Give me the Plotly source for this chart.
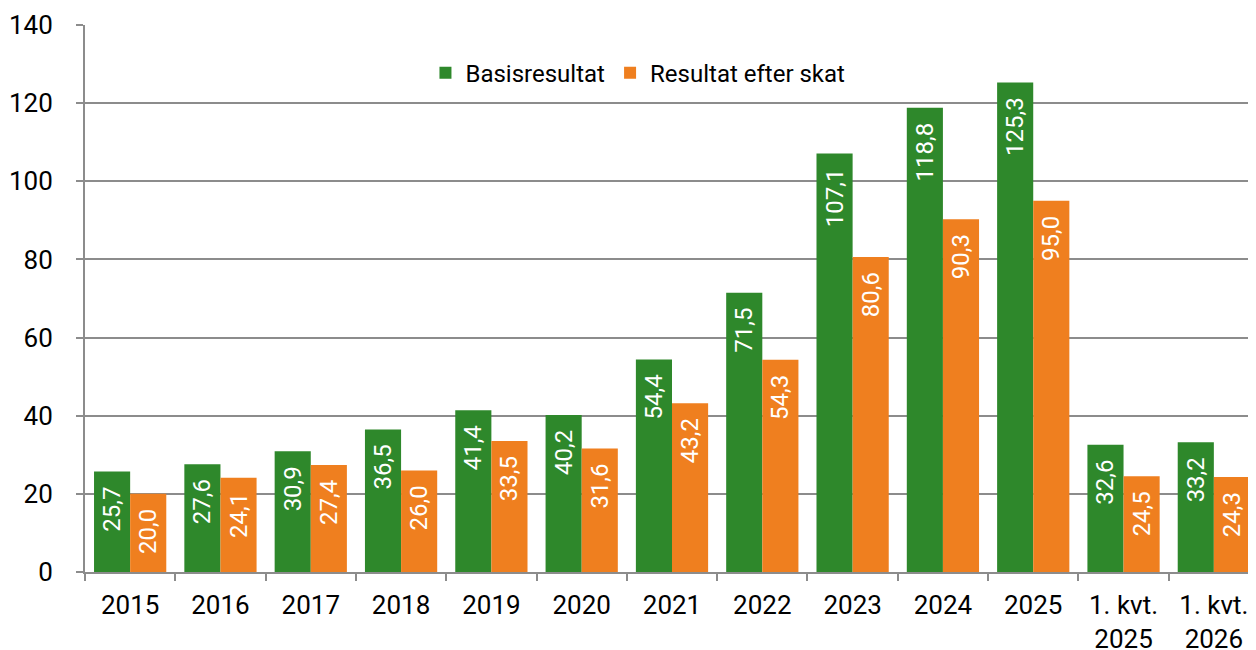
import plotly.graph_objects as go

categories = ["2015", "2016", "2017", "2018", "2019", "2020", "2021", "2022", "2023", "2024", "2025",
              "1. kvt.<br>2025", "1. kvt.<br>2026"]
basis = [25.7, 27.6, 30.9, 36.5, 41.4, 40.2, 54.4, 71.5, 107.1, 118.8, 125.3, 32.6, 33.2]
efter_skat = [20.0, 24.1, 27.4, 26.0, 33.5, 31.6, 43.2, 54.3, 80.6, 90.3, 95.0, 24.5, 24.3]

GREEN = "#2E882B"
ORANGE = "#EF7F1F"
FONT = "Roboto"

fig = go.Figure()
for name, vals, col in [("Basisresultat", basis, GREEN), ("Resultat efter skat", efter_skat, ORANGE)]:
    fig.add_trace(go.Bar(
        x=categories, y=vals, name=name, marker=dict(color=col, line=dict(width=0)),
        texttemplate="%{y:.1f}\u00a0\u00a0", textposition="inside", textangle=-90,
        insidetextanchor="end", insidetextfont=dict(color="white", size=24, family=FONT),
    ))

fig.update_layout(
    width=1256, height=650,
    margin=dict(l=77, r=5, t=17, b=86),
    paper_bgcolor="white", plot_bgcolor="white",
    barmode="group", bargap=0.2, bargroupgap=0,
    separators=",.",
    font=dict(family=FONT, size=26, color="black"),
    uniformtext=dict(mode="show", minsize=24),
    legend=dict(orientation="h", x=0.29, y=0.912, xanchor="left", yanchor="middle",
                font=dict(size=24, family=FONT), bgcolor="rgba(0,0,0,0)"),
    xaxis=dict(type="category", range=[-0.5, 12.5], showline=True, linecolor="#8c8c8c", linewidth=2,
               ticks="outside", tickson="boundaries", ticklen=7, tickcolor="#8c8c8c", tickwidth=2,
               showgrid=False, tickfont=dict(size=26, family=FONT), automargin=False,
               ticklabelstandoff=9),
    yaxis=dict(range=[0, 140], dtick=20, showline=True, linecolor="#8c8c8c", linewidth=2,
               ticks="outside", ticklen=7, tickcolor="#8c8c8c", tickwidth=2,
               showgrid=True, gridcolor="#8c8c8c", gridwidth=2, zeroline=False,
               tickfont=dict(size=26, family=FONT), automargin=False,
               ticklabelstandoff=18),
)

fig.write_html("out.html")
